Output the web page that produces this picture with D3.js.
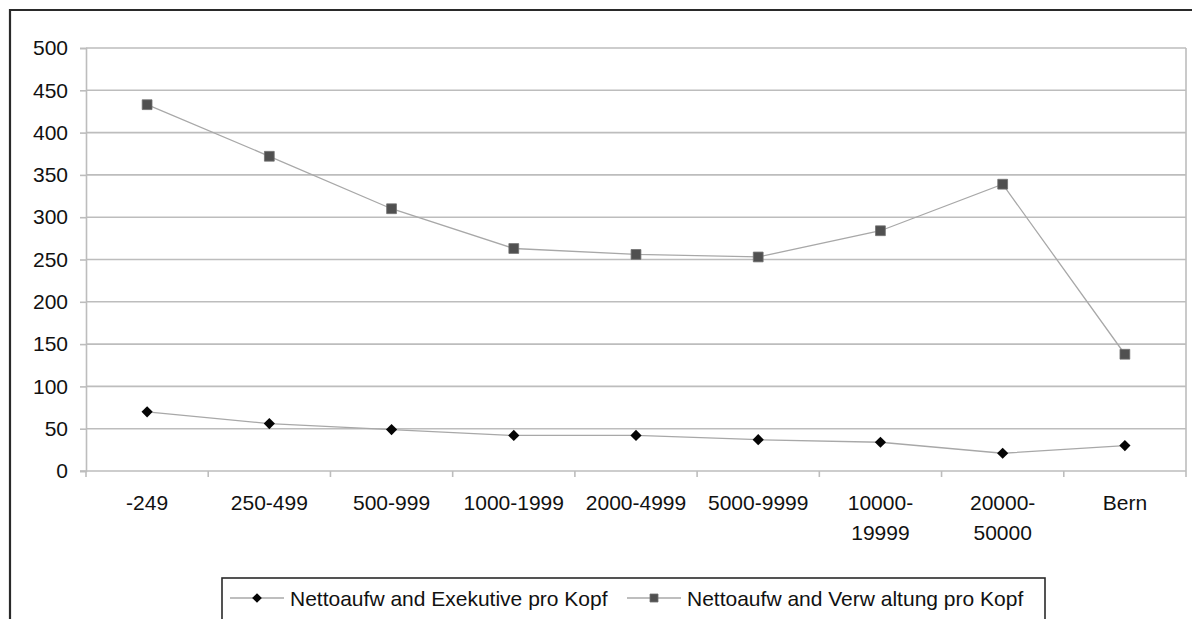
<!DOCTYPE html>
<html>
<head>
<meta charset="utf-8">
<script src="https://cdn.jsdelivr.net/npm/d3@7"></script>
<style>
  html, body { margin: 0; padding: 0; background: #fff; }
  svg { display: block; font-family: "Liberation Sans", Arial, sans-serif; }
</style>
</head>
<body>
<svg id="chart" width="1192" height="619"></svg>
<script>
// Gemeindegrössenklassen (Einwohner)
const categories = ["-249", "250-499", "500-999", "1000-1999", "2000-4999",
                    "5000-9999", "10000-19999", "20000-50000", "Bern"];
// Category labels as printed (split across lines)
const categoryLines = [["-249"], ["250-499"], ["500-999"], ["1000-1999"], ["2000-4999"],
                       ["5000-9999"], ["10000-", "19999"], ["20000-", "50000"], ["Bern"]];
// Nettoaufwand pro Kopf (CHF)
const exekutive   = [70, 56, 49, 42, 42, 37, 34, 21, 30];
const verwaltung  = [433, 372, 310, 263, 256, 253, 284, 339, 138];
const yTicks = [0, 50, 100, 150, 200, 250, 300, 350, 400, 450, 500];
const seriesNames = ["Nettoaufw and Exekutive pro Kopf", "Nettoaufw and Verw altung pro Kopf"];

const svg = d3.select("#chart");
const plot = { left: 86, right: 1186, top: 48, bottom: 471 };

const x = d3.scaleBand().domain(categories).range([plot.left, plot.right]).padding(0);
const y = d3.scaleLinear().domain([0, 500]).range([plot.bottom, plot.top]);

// outer frame (open on right and bottom)
svg.append("path")
  .attr("d", "M10,1200 L10,10 L1200,10")
  .attr("fill", "none").attr("stroke", "#2a2a2a").attr("stroke-width", 2.2);

const gridColor = "#bdbdbd";

// horizontal gridlines
svg.append("g").selectAll("line").data(yTicks.filter(d => d > 0)).join("line")
  .attr("x1", plot.left).attr("x2", plot.right)
  .attr("y1", d => y(d)).attr("y2", d => y(d))
  .attr("stroke", gridColor).attr("stroke-width", 1.6);

// right border of plot area
svg.append("line")
  .attr("x1", plot.right).attr("x2", plot.right)
  .attr("y1", plot.top).attr("y2", plot.bottom)
  .attr("stroke", gridColor).attr("stroke-width", 1.6);

// y axis
const yAxis = svg.append("g").attr("transform", `translate(${plot.left},0)`)
  .call(d3.axisLeft(y).tickValues(yTicks).tickSize(6).tickPadding(12));
yAxis.select(".domain").attr("stroke", gridColor).attr("stroke-width", 1.6);
yAxis.selectAll(".tick line").attr("stroke", gridColor).attr("stroke-width", 1.6);
yAxis.selectAll(".tick text").attr("fill", "#111").attr("font-size", 21)
  .attr("font-family", "Liberation Sans, Arial, sans-serif");

// x axis (ticks at category boundaries)
const xAxisG = svg.append("g").attr("transform", `translate(0,${plot.bottom})`);
xAxisG.append("line")
  .attr("x1", plot.left - 6).attr("x2", plot.right)
  .attr("stroke", gridColor).attr("stroke-width", 1.6);
const boundaries = categories.map(c => x(c)).concat([plot.right]);
xAxisG.selectAll("line.tk").data(boundaries).join("line").attr("class", "tk")
  .attr("x1", d => d).attr("x2", d => d).attr("y1", 0).attr("y2", 6)
  .attr("stroke", gridColor).attr("stroke-width", 1.6);

// category labels
const lab = svg.append("g").selectAll("text").data(categories).join("text")
  .attr("x", d => x(d) + x.bandwidth() / 2)
  .attr("y", 510)
  .attr("text-anchor", "middle").attr("font-size", 21).attr("fill", "#111");
lab.selectAll("tspan").data((d, i) => categoryLines[i]).join("tspan")
  .attr("x", function () { return d3.select(this.parentNode).attr("x"); })
  .attr("dy", (d, i) => i === 0 ? 0 : 30)
  .text(d => d);

const cx = c => x(c) + x.bandwidth() / 2;
const line = d3.line().x((d, i) => cx(categories[i])).y(d => y(d));

// Verwaltung series
svg.append("path").datum(verwaltung).attr("d", line)
  .attr("fill", "none").attr("stroke", "#a8a8a8").attr("stroke-width", 1.3);
// Exekutive series
svg.append("path").datum(exekutive).attr("d", line)
  .attr("fill", "none").attr("stroke", "#a8a8a8").attr("stroke-width", 1.3);

const diamond = d3.symbol().type(d3.symbolDiamond2).size(80);
const square = d3.symbol().type(d3.symbolSquare).size(96);

svg.append("g").selectAll("path").data(verwaltung).join("path")
  .attr("transform", (d, i) => `translate(${cx(categories[i])},${y(d)})`)
  .attr("d", square).attr("fill", "#505050").attr("stroke", "#707070").attr("stroke-width", 0.8);

svg.append("g").selectAll("path").data(exekutive).join("path")
  .attr("transform", (d, i) => `translate(${cx(categories[i])},${y(d)})`)
  .attr("d", diamond).attr("fill", "#050505");

// legend
const lg = svg.append("g");
lg.append("rect").attr("x", 222).attr("y", 578).attr("width", 823).attr("height", 60)
  .attr("fill", "#fff").attr("stroke", "#2a2a2a").attr("stroke-width", 1.6);

const legendItems = [
  { name: seriesNames[0], x0: 230, marker: d3.symbol().type(d3.symbolDiamond2).size(60)(), fill: "#050505", stroke: "none" },
  { name: seriesNames[1], x0: 627, marker: d3.symbol().type(d3.symbolSquare).size(64)(), fill: "#505050", stroke: "#707070" }
];
const ly = 598;
legendItems.forEach(it => {
  lg.append("line").attr("x1", it.x0).attr("x2", it.x0 + 54)
    .attr("y1", ly).attr("y2", ly).attr("stroke", "#a8a8a8").attr("stroke-width", 1.3);
  lg.append("path").attr("transform", `translate(${it.x0 + 27},${ly})`)
    .attr("d", it.marker)
    .attr("fill", it.fill).attr("stroke", it.stroke).attr("stroke-width", 0.8);
  lg.append("text").attr("x", it.x0 + 60).attr("y", ly + 7.5)
    .attr("font-size", 21).attr("fill", "#111").text(it.name);
});
</script>
</body>
</html>
